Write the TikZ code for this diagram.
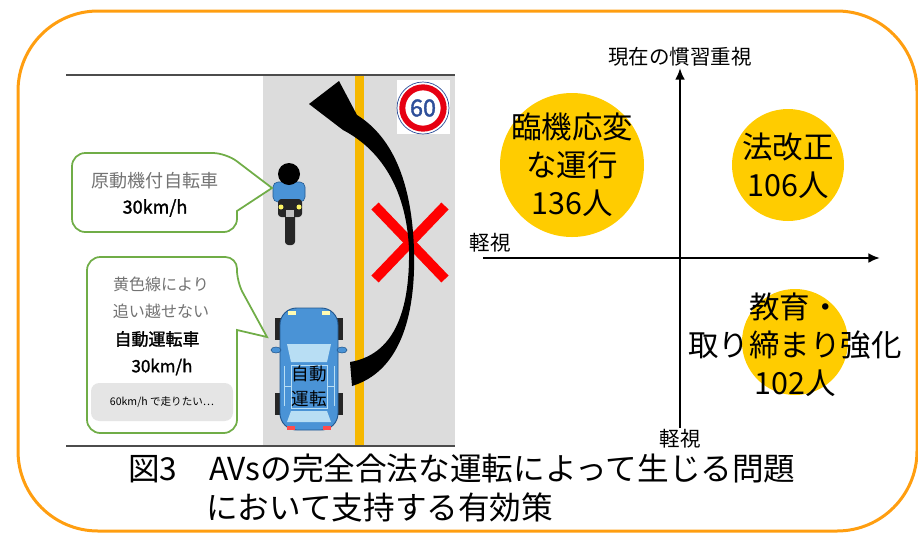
\documentclass[tikz,border=0pt]{standalone}
\usepackage{fontspec}
\setmainfont{Noto Sans CJK JP}
\newfontfamily\jpbold{Noto Sans CJK JP}[FakeBold=1.6]
\usepackage{tikz}
\usetikzlibrary{arrows.meta, positioning}

\definecolor{framecol}{HTML}{FF9E10}
\definecolor{spotyellow}{HTML}{FFCC00}
\definecolor{bubblegreen}{HTML}{70AD47}
\definecolor{roadgray}{HTML}{DCDCDC}
\definecolor{lanecol}{HTML}{F6B800}
\definecolor{carblue}{HTML}{4A93D6}
\definecolor{carline}{HTML}{23588F}
\definecolor{glassblue}{HTML}{B8DEF4}
\definecolor{signblue}{HTML}{2E4F9A}
\definecolor{signred}{HTML}{E60012}

\begin{document}
\begin{tikzpicture}[
    x=0.3mm, y=-0.3mm,
    frame/.style={draw=framecol, line width=0.9mm, rounded corners=24mm},
    edgeline/.style={draw=black!70, line width=1pt},
    bubble/.style={draw=bubblegreen, line width=1.5pt, fill=white},
    greytxt/.style={text=black!55, inner sep=0pt, font=\fontsize{13.7}{16}\selectfont},
    boldtxt/.style={inner sep=0pt, font=\jpbold\fontsize{14.5}{16}\selectfont},
    wishbox/.style={fill=black!10, rounded corners=2.5mm, minimum width=42.6mm, minimum height=11.4mm, font=\fontsize{9}{10}\selectfont},
    cartxt/.style={align=center, inner sep=0pt, font=\fontsize{15}{21}\selectfont},
    spot/.style={circle, fill=spotyellow, inner sep=0pt},
    spottxt/.style={align=center, inner sep=0pt, font=\fontsize{26}{32.5}\selectfont},
    axis/.style={-{Latex[length=3.5mm, width=3mm]}, line width=0.8mm},
    axislabel/.style={inner sep=1pt, font=\fontsize{17.5}{20}\selectfont},
    cross/.style={draw=red, line width=3mm},
    captxt/.style={anchor=west, inner sep=0pt, font=\fontsize{27}{33}\selectfont},
]

\useasboundingbox (0,0) rectangle (918,532);
\draw[frame] (18,11) rectangle (917,531);

% road scene
\fill[roadgray] (263,75) rectangle (455,446);
\fill[lanecol] (355,75) rectangle (364,446);
\draw[edgeline] (66,75) -- (455,75);
\draw[edgeline] (66,446) -- (455,446);

% speed limit sign
\fill[white] (397,80) rectangle (450,134);
\node[circle, draw=signblue, line width=0.6pt, minimum size=15.6mm, fill=white] (signring) at (423,108) {};
\node[circle, draw=signred, line width=1.8mm, minimum size=12.4mm] (signred) at (signring) {};
\node[text=signblue, inner sep=0pt, font=\jpbold\fontsize{20}{20}\selectfont] (speed) at (signring) {60};

% no overtaking
\draw[cross] (375,206) -- (445,279);
\draw[cross] (445,206) -- (375,279);

% overtaking arrow
\fill[black] (352,386) .. controls (398,372) and (416,320) .. (414,250)
    .. controls (412,185) and (394,138) .. (357,115)
    -- (339,81) -- (309,104) -- (343,130)
    .. controls (385,152) and (407,195) .. (409,250)
    .. controls (410,315) and (392,355) .. (350,362) -- cycle;

% motorbike
\fill[black!85, rounded corners=1mm] (285,210) rectangle (295,245);
\fill[carblue, draw=carline, line width=0.5pt, rounded corners=1.5mm] (273,182) rectangle (305,202);
\fill[black!85, rounded corners=1mm] (278,199) rectangle (302,217);
\fill[yellow!60] (281,207) circle [radius=2.5];
\fill[yellow!60] (299,207) circle [radius=2.5];
\fill[black!25] (286,210) rectangle (294,217);
\fill[black] (289,174) circle [radius=11];

% autonomous car
\fill[black!85] (275,318) rectangle (282,340);
\fill[black!85] (336,318) rectangle (343,340);
\fill[black!85] (275,393) rectangle (282,415);
\fill[black!85] (336,393) rectangle (343,415);
\draw[carline, fill=carblue, line width=0.8pt, rounded corners=5mm] (280,308) rectangle (338,430);
\fill[carblue, draw=carline, line width=0.5pt] (276,350) ellipse [x radius=5, y radius=3];
\fill[carblue, draw=carline, line width=0.5pt] (342,350) ellipse [x radius=5, y radius=3];
\fill[glassblue] (287,344) -- (331,344) -- (327,362) -- (291,362) -- cycle;
\draw[glassblue, line width=0.8pt] (291,365) rectangle (327,408);
\draw[glassblue, line width=0.8pt] (284,366) -- (284,406) (334,366) -- (334,406);
\draw[glassblue, line width=0.8pt] (284,386) -- (291,386) (327,386) -- (334,386);
\fill[glassblue] (291,411) -- (327,411) -- (331,422) -- (287,422) -- cycle;
\fill[yellow!30] (288,311) rectangle (296,315);
\fill[yellow!30] (322,311) rectangle (330,315);
\fill[red!70] (287,426) rectangle (295,430);
\fill[red!70] (323,426) rectangle (331,430);
\node[cartxt] (avlabel) at (309,386) {自動\\運転};

% speech bubbles
\draw[bubble, rounded corners=4mm] (72,153) -- (226,153) [sharp corners] -- (272,188)
    -- (237,211) [rounded corners=4mm] -- (237,232) -- (72,232) -- cycle;
\node[greytxt, font=\fontsize{15.4}{17}\selectfont] (moped) at (155,181) {原動機付自転車};
\node[boldtxt, font=\jpbold\fontsize{15.4}{17}\selectfont] (mopedspeed) at (155,208) {30km/h};

\draw[bubble, rounded corners=3.5mm] (87,257) -- (237,257) -- (237,282) [sharp corners]
    -- (267,337) -- (237,330) [rounded corners=4mm] -- (237,433) -- (87,433) -- cycle;
\node[greytxt] (line1) at (161,284) {黄色線により};
\node[greytxt] (line2) at (161,311) {追い越せない};
\node[boldtxt] (avname) at (157,339) {自動運転車};
\node[boldtxt] (avspeed) at (162,367) {30km/h};
\node[wishbox] (wish) at (162,402) {60km/h で走りたい…};

% quadrant chart
\coordinate (ybot) at (680,428);
\coordinate (ytop) at (680,68);
\coordinate (xleft) at (483,258);
\coordinate (xright) at (880,258);
\draw[axis] (ybot) -- (ytop);
\draw[axis] (xleft) -- (xright);
\node[axislabel, above=0pt of ytop] (custom) {現在の慣習重視};
\node[axislabel, below=0pt of ybot] (lightb) {軽視};
\node[axislabel] (lightl) at (490,243) {軽視};

\node[spot, minimum size=43.2mm] (flex) at (572,165) {};
\node[spottxt] (flextxt) at (flex) {臨機応変\\な運行\\136人};
\node[spot, minimum size=33.6mm] (law) at (788,165) {};
\node[spottxt] (lawtxt) at (788,166) {法改正\\106人};
\node[spot, minimum size=31.8mm] (edu) at (795,342) {};
\node[spottxt] (edutxt) at (795,345) {教育・\\取り締まり強化\\102人};

% caption
\node[captxt] (cap1) at (128,468) {図3　AVsの完全合法な運転によって生じる問題};
\node[captxt] (cap2) at (206,507) {において支持する有効策};

\end{tikzpicture}
\end{document}
